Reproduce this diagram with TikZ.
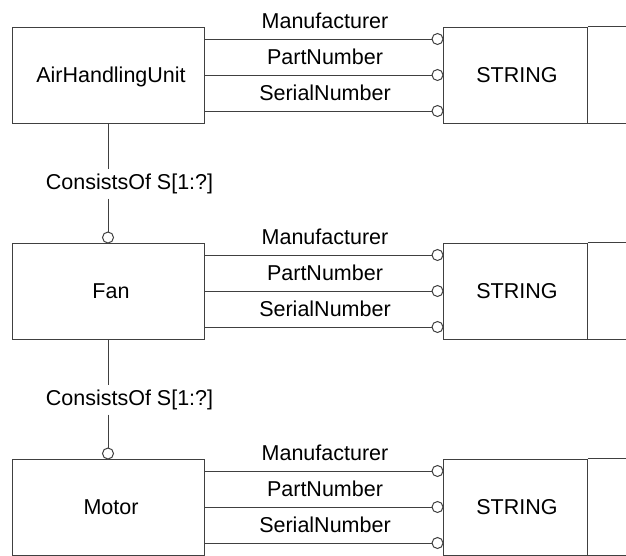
\documentclass[tikz,border=0pt]{standalone}
\usepackage{fontspec}
\setmainfont{Liberation Sans}
\begin{document}
\begin{tikzpicture}[x=1pt,y=-1pt,
  every node/.style={font=\fontsize{21.5}{24}\selectfont, text=black},
  ln/.style={draw=black!75, line width=1pt},
  ent/.style={ln, rectangle, minimum width=192pt, minimum height=96pt, text height=15.4pt, text depth=0pt, inner sep=0pt},
  typ/.style={ln, rectangle, minimum width=144pt, minimum height=96pt, text height=15.4pt, text depth=0pt, inner sep=0pt},
  circ/.style={ln, circle, minimum size=11pt, inner sep=0pt, fill=white},
  lbl/.style={anchor=base, inner sep=0pt},
  rel/.style={anchor=base, inner xsep=0pt, inner ysep=5pt, text height=15.5pt, text depth=4pt}
]
\useasboundingbox (0,0) rectangle (626,555);
\clip (0,0) rectangle (626,555);
\foreach \r/\name/\top in {1/AirHandlingUnit/27, 2/Fan/243, 3/Motor/459}{
  \node[ent] (e\r) at (108,{\top+48}) {\hspace*{6pt}\name};
  \node[typ] (t\r) at (515,{\top+48}) {\hspace*{4pt}STRING};
  \draw[ln] (t\r.north east) -- ++(60,0) (t\r.south east) -- ++(60,0);
  \foreach \k/\att/\dy in {a/Manufacturer/12, b/PartNumber/48, c/SerialNumber/84}{
    \node[circ] (c\r\k) at (437.5,{\top+\dy}) {};
    \draw[ln] (e\r.east |- c\r\k) -- (c\r\k.west);
    \node[lbl] (l\r\k) at (325,{\top+\dy-11}) {\att};
  }
}
% relationships
\node[circ] (r2) at (108,237.5) {};
\node[rel] (k1) at (129.5,189.5) {ConsistsOf S[1:?]};
\draw[ln] (e1.south) -- (e1.south |- k1.north);
\draw[ln] (e1.south |- k1.south) -- (r2.north);
\node[circ] (r3) at (108,453.5) {};
\node[rel] (k2) at (129.5,405.5) {ConsistsOf S[1:?]};
\draw[ln] (e2.south) -- (e2.south |- k2.north);
\draw[ln] (e2.south |- k2.south) -- (r3.north);
\end{tikzpicture}
\end{document}
